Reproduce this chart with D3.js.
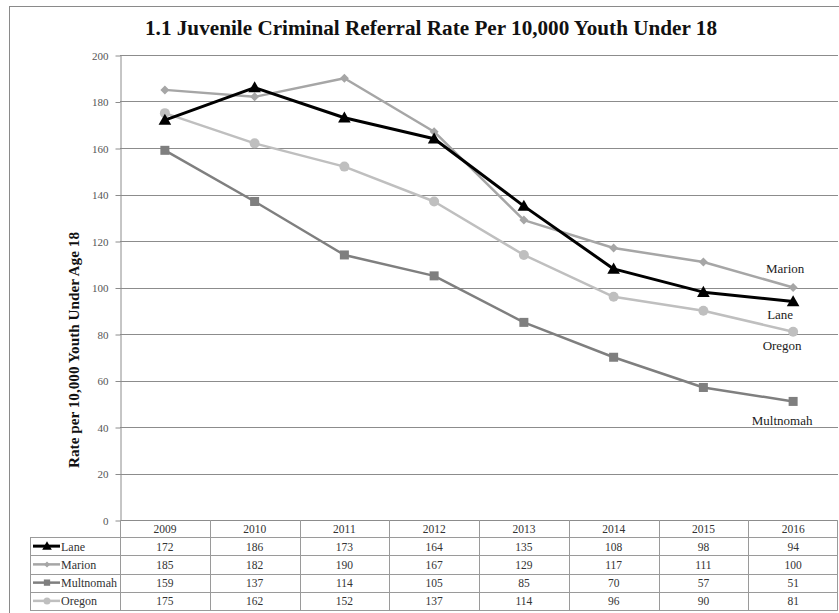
<!DOCTYPE html>
<html><head><meta charset="utf-8">
<script src="https://cdn.jsdelivr.net/npm/d3@7"></script>
<style>body{margin:0;background:#fff;} svg{display:block;} text{font-family:"Liberation Serif","Times New Roman",serif;}</style>
</head><body>
<script>
const years = ["2009","2010","2011","2012","2013","2014","2015","2016"];
const seriesNames = ["Lane","Marion","Multnomah","Oregon"];
const lane = [172,186,173,164,135,108,98,94];
const marion = [185,182,190,167,129,117,111,100];
const multnomah = [159,137,114,105,85,70,57,51];
const oregon = [175,162,152,137,114,96,90,81];
const yTicks = [0,20,40,60,80,100,120,140,160,180,200];
const title = "1.1 Juvenile Criminal Referral Rate Per 10,000 Youth Under 18";
const yTitle = "Rate per 10,000 Youth Under Age 18";

(function(){
const series = [
  {name:"Lane", values:lane, color:"#000000", marker:"triangle", width:3},
  {name:"Marion", values:marion, color:"#a6a6a6", marker:"diamond", width:2.5},
  {name:"Multnomah", values:multnomah, color:"#7f7f7f", marker:"square", width:2.5},
  {name:"Oregon", values:oregon, color:"#bfbfbf", marker:"circle", width:2.5}
];

const W = 839, H = 613;
const svg = d3.select("body").append("svg").attr("width", W).attr("height", H);
svg.append("rect").attr("x",9.5).attr("y",6.5).attr("width",850).attr("height",640)
  .attr("fill","#fff").attr("stroke","#8a8a8a").attr("stroke-width",1);

const pLeft = 120, pRight = 838, pTop = 55, pBottom = 520;
const x = d3.scaleBand().domain(years).range([pLeft, pRight]);
const y = d3.scaleLinear().domain([0,200]).range([pBottom, pTop]);

svg.append("g").selectAll("line").data(yTicks.filter(d=>d>0)).join("line")
  .attr("x1", pLeft).attr("x2", pRight)
  .attr("y1", d=>Math.round(y(d))+0.5).attr("y2", d=>Math.round(y(d))+0.5)
  .attr("stroke","#8c8c8c").attr("stroke-width",1);

const yAxis = d3.axisLeft(y).tickValues(yTicks).tickSize(5).tickPadding(7).tickSizeOuter(0);
const ga = svg.append("g").attr("transform",`translate(${pLeft+0.5},0.5)`).call(yAxis);
ga.select(".domain").attr("stroke","#8c8c8c");
ga.selectAll(".tick line").attr("stroke","#8c8c8c");
ga.selectAll(".tick text").attr("font-size",11).attr("fill","#555")
  .attr("font-family","Liberation Serif, serif");

const rowH = 18.25;
const tbl = svg.append("g");
const lineColor = "#9a9a9a";
tbl.append("line").attr("x1",pLeft).attr("x2",pRight).attr("y1",pBottom+0.5).attr("y2",pBottom+0.5).attr("stroke","#8c8c8c");
for (let i=1;i<=5;i++){
  const yy = Math.round(pBottom + 17 + (i-1)*rowH)+0.5;
  tbl.append("line").attr("x1",30).attr("x2",pRight).attr("y1",yy).attr("y2",yy).attr("stroke",lineColor);
}
const tblBottom = Math.round(pBottom+17+4*rowH)+0.5;
years.forEach((yr)=>{
  const xx = Math.round(x(yr))+0.5;
  tbl.append("line").attr("x1",xx).attr("x2",xx).attr("y1",pBottom).attr("y2",tblBottom).attr("stroke",lineColor);
});
tbl.append("line").attr("x1",pRight-0.5).attr("x2",pRight-0.5).attr("y1",pBottom).attr("y2",tblBottom).attr("stroke",lineColor);
tbl.append("line").attr("x1",30.5).attr("x2",30.5).attr("y1",pBottom+17).attr("y2",tblBottom).attr("stroke",lineColor);

tbl.selectAll("text.yr").data(years).join("text").attr("class","yr")
  .attr("x", d=>x(d)+x.bandwidth()/2).attr("y", pBottom+13)
  .attr("text-anchor","middle").attr("font-size",11.5).attr("fill","#333").text(d=>d);

function marker(g, type, cx, cy, color, s){
  if (type==="triangle") {
    g.append("path").attr("d",`M${cx},${cy-s*0.6}L${cx+s*0.6},${cy+s*0.45}L${cx-s*0.6},${cy+s*0.45}Z`).attr("fill",color);
  } else if (type==="diamond") {
    g.append("path").attr("d",`M${cx},${cy-s*0.5}L${cx+s*0.5},${cy}L${cx},${cy+s*0.5}L${cx-s*0.5},${cy}Z`).attr("fill",color);
  } else if (type==="square") {
    g.append("rect").attr("x",cx-s*0.45).attr("y",cy-s*0.45).attr("width",s*0.9).attr("height",s*0.9).attr("fill",color);
  } else {
    g.append("circle").attr("cx",cx).attr("cy",cy).attr("r",s*0.5).attr("fill",color);
  }
}

series.forEach((s,i)=>{
  const rowTop = pBottom+17+i*rowH;
  const cy = rowTop + rowH/2;
  tbl.append("line").attr("x1",33).attr("x2",60).attr("y1",cy).attr("y2",cy)
    .attr("stroke",s.color).attr("stroke-width",s.width);
  marker(tbl, s.marker, 47, cy, s.color, s.marker==="triangle"?8:(s.marker==="diamond"?6:7));
  tbl.append("text").attr("x",61).attr("y",cy+4.5).attr("font-size",12).attr("fill","#333").text(s.name);
  tbl.selectAll(null).data(s.values).join("text")
    .attr("x",(d,j)=>x(years[j])+x.bandwidth()/2).attr("y",cy+4.5)
    .attr("text-anchor","middle").attr("font-size",11.5).attr("fill","#333").text(d=>d);
});

const plot = svg.append("g");
[3,2,1,0].forEach(k=>{
  const s = series[k];
  const line = d3.line().x((d,j)=>x(years[j])+x.bandwidth()/2).y(d=>y(d));
  plot.append("path").attr("d",line(s.values)).attr("fill","none")
    .attr("stroke",s.color).attr("stroke-width",s.width).attr("stroke-linejoin","round");
  const mg = plot.append("g");
  s.values.forEach((v,j)=>{
    marker(mg, s.marker, x(years[j])+x.bandwidth()/2, y(v), s.color,
      s.marker==="triangle"?10.5:(s.marker==="diamond"?9:(s.marker==="square"?10:10)));
  });
});

const lastX = x(years[7])+x.bandwidth()/2;
const labelOffsets = {Lane:[-13,18], Marion:[-8,-15], Multnomah:[-11,24], Oregon:[-11,18]};
series.forEach(s=>{
  const v = s.values[7];
  const off = labelOffsets[s.name];
  plot.append("text").attr("x",lastX+off[0]).attr("y",y(v)+off[1])
    .attr("text-anchor","middle").attr("font-size",13).attr("fill","#222").text(s.name);
});

svg.append("text").attr("x",431).attr("y",35).attr("text-anchor","middle")
  .attr("font-size",20).attr("font-weight","bold").attr("fill","#111")
  .attr("textLength",572).attr("lengthAdjust","spacingAndGlyphs").text(title);

svg.append("text").attr("transform","translate(79,350) rotate(-90)").attr("text-anchor","middle")
  .attr("font-size",15.5).attr("font-weight","bold").attr("fill","#111")
  .attr("textLength",236).attr("lengthAdjust","spacingAndGlyphs").text(yTitle);
})();
</script>
</body></html>
